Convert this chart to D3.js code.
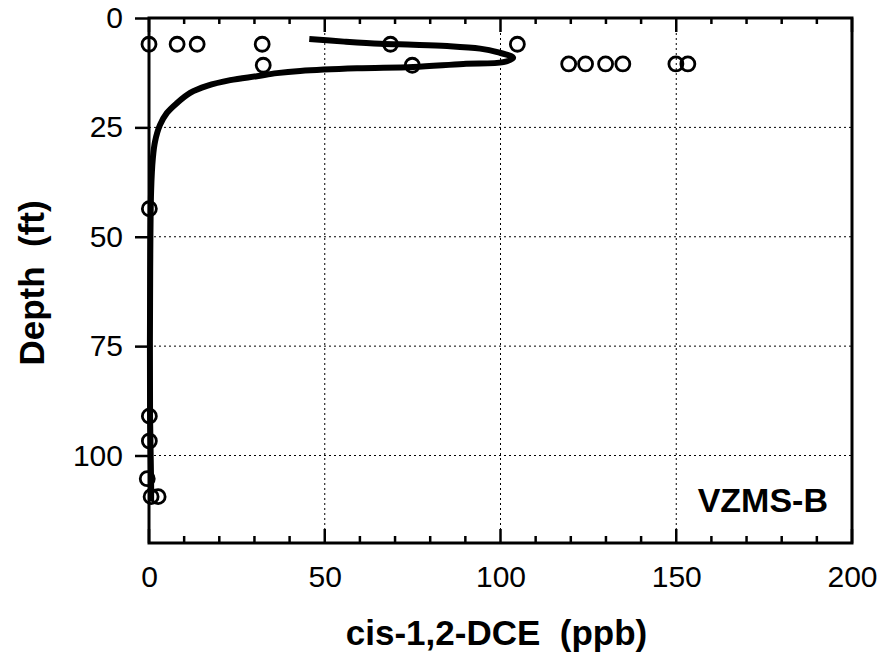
<!DOCTYPE html>
<html><head><meta charset="utf-8">
<script src="https://cdn.jsdelivr.net/npm/d3@7"></script>
<style>body{margin:0;background:#fff}svg{display:block}</style>
</head><body>
<script>
// Measured points (cis-1,2-DCE ppb, depth ft)
const pointConc  = [0, 8, 13.7, 32.2, 68.7, 104.8, 32.5, 74.9, 119.4, 124.2, 129.9, 134.8, 149.9, 153.3, 0.1, 0.1, 0.1, -0.5, 0.6, 2.6];
const pointDepth = [6, 6, 6, 6, 6, 6, 10.8, 10.8, 10.5, 10.5, 10.5, 10.5, 10.5, 10.5, 43.6, 91, 96.7, 105.3, 109.4, 109.4];
// Model curve
const lineConc  = [45.6, 55.5, 65.8, 75.2, 84.8, 94.2, 99.1, 103.6, 100.8, 89.4, 75.2, 59.2, 43, 36.4, 30.7, 23.1, 16.5, 11.7, 8, 5.1, 3.1, 1.7, 1.1, 0.6, 0.3, 0.3, 0.6, 0.6];
const lineDepth = [4.8, 5.4, 5.9, 6.1, 6.4, 7, 7.8, 9.1, 10.1, 10.5, 11.2, 11.5, 12.1, 12.6, 13.3, 14.2, 15.5, 17.1, 19.4, 21.7, 24.5, 28.3, 32, 39.5, 65, 91, 106, 110.5];
const xTicks = [0, 50, 100, 150, 200];
const yTicks = [0, 25, 50, 75, 100];
const xTitle = "cis-1,2-DCE  (ppb)";
const yTitle = "Depth  (ft)";
const label = "VZMS-B";

(function () {
const W = 883, H = 661;
const pL = 149, pR = 852, pT = 18, pB = 543;
const svg = d3.select("body").append("svg").attr("width", W).attr("height", H);
const x = d3.scaleLinear().domain([0, 200]).range([pL, pR]);
const y = d3.scaleLinear().domain([0, 120]).range([pT, pB]);
const font = "'Liberation Sans', Arial, sans-serif";

// grid
const grid = svg.append("g").attr("stroke", "#000").attr("stroke-width", 1).attr("stroke-dasharray", "2,3");
grid.selectAll(".gx").data(xTicks.filter(d => d > 0 && d < 200)).join("line")
  .attr("x1", d => x(d)).attr("x2", d => x(d)).attr("y1", pT).attr("y2", pB);
grid.selectAll(".gy").data(yTicks.filter(d => d > 0)).join("line")
  .attr("y1", d => y(d)).attr("y2", d => y(d)).attr("x1", pL).attr("x2", pR);

// axes
const xMinor = d3.range(0, 201, 10);
const bottomAxis = d3.axisBottom(x).tickValues(xTicks).tickSize(0).tickPadding(23);
const gb = svg.append("g").attr("transform", `translate(0,${pB})`).call(bottomAxis);
gb.select(".domain").remove();
gb.selectAll("text").attr("font-family", font).attr("font-size", 30).attr("fill", "#000");
const tk = svg.append("g").attr("stroke", "#000").attr("stroke-width", 2.5);
tk.selectAll(".tb").data(xMinor).join("line")
  .attr("x1", d => x(d)).attr("x2", d => x(d))
  .attr("y1", pB).attr("y2", d => pB - (d % 50 === 0 ? 14 : 7));
tk.selectAll(".tt").data(xMinor).join("line")
  .attr("x1", d => x(d)).attr("x2", d => x(d))
  .attr("y1", pT).attr("y2", d => pT + (d % 50 === 0 ? 14 : 6));

const leftAxis = d3.axisLeft(y).tickValues(yTicks).tickSize(14).tickPadding(12);
const gl = svg.append("g").attr("transform", `translate(${pL},0)`).call(leftAxis);
gl.select(".domain").remove();
gl.selectAll(".tick line").attr("stroke", "#000").attr("stroke-width", 2.5);
gl.selectAll("text").attr("font-family", font).attr("font-size", 30).attr("fill", "#000");

// frame
svg.append("rect").attr("x", pL).attr("y", pT).attr("width", pR - pL).attr("height", pB - pT)
  .attr("fill", "none").attr("stroke", "#000").attr("stroke-width", 3);

// curve
svg.append("path")
  .datum(lineConc.map((c, i) => [c, lineDepth[i]]))
  .attr("fill", "none").attr("stroke", "#000").attr("stroke-width", 6).attr("stroke-linejoin", "round")
  .attr("d", d3.line().x(d => x(d[0])).y(d => y(d[1])).curve(d3.curveCatmullRom.alpha(0.5)));

// points
svg.append("g").selectAll("circle").data(pointConc.map((c, i) => [c, pointDepth[i]])).join("circle")
  .attr("cx", d => x(d[0])).attr("cy", d => y(d[1])).attr("r", 7)
  .attr("fill", "none").attr("stroke", "#000").attr("stroke-width", 2.8);

// label
svg.append("text").attr("x", 828).attr("y", 512).attr("text-anchor", "end")
  .attr("font-family", font).attr("font-weight", "bold").attr("font-size", 34).text(label);

// titles
svg.append("text").attr("x", (pL + pR) / 2 - 4).attr("y", 645).attr("text-anchor", "middle")
  .attr("font-family", font).attr("font-weight", "bold").attr("font-size", 35)
  .style("white-space", "pre").text(xTitle);
svg.append("text").attr("transform", "translate(44,283) rotate(-90)").attr("text-anchor", "middle")
  .attr("font-family", font).attr("font-weight", "bold").attr("font-size", 35)
  .style("white-space", "pre").text(yTitle);
})();
</script>
</body></html>
